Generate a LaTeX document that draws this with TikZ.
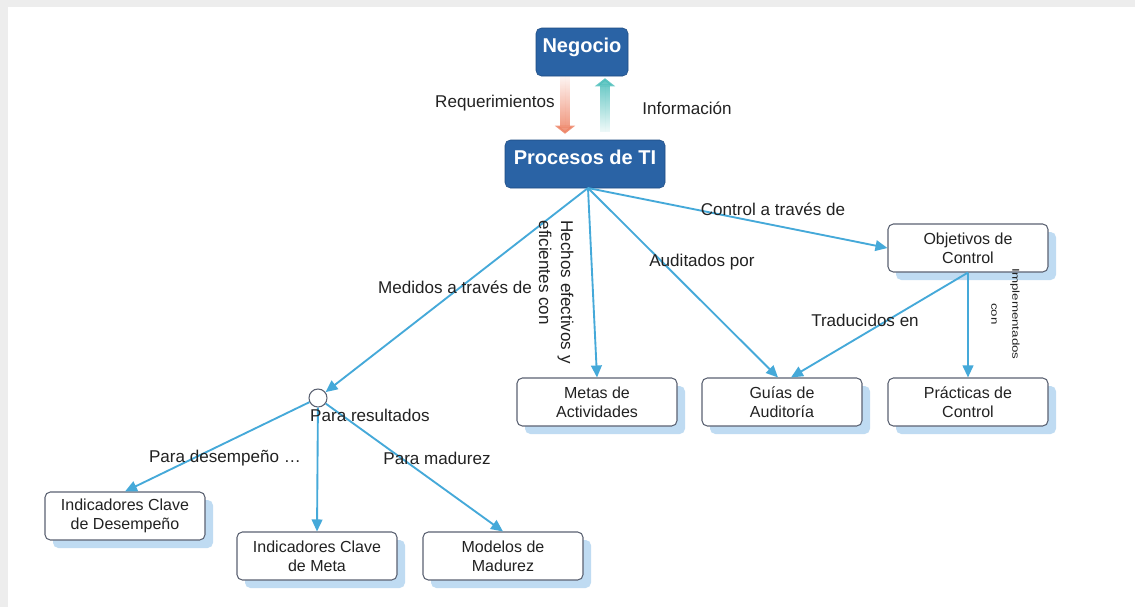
\documentclass[tikz,border=0pt]{standalone}
\usepackage{fontspec}
\setmainfont{Liberation Sans}
\usepackage{tikz}
\usetikzlibrary{arrows.meta,calc,fadings,shadows}
\definecolor{cmBlue}{HTML}{2A63A5}
\definecolor{cmBlueDark}{HTML}{1E4C82}
\definecolor{cmLine}{HTML}{45A9D9}
\definecolor{cmEdge}{HTML}{5B6272}
\definecolor{cmShadow}{HTML}{B9D8F1}
\definecolor{cmRed}{HTML}{EE8466}
\definecolor{cmTeal}{HTML}{4FC0BC}
\definecolor{cmText}{HTML}{222222}
\definecolor{cmFrame}{HTML}{EDEDED}

\begin{document}
\begin{tikzpicture}[
  x=0.75pt,y=-0.75pt,
  every node/.style={font=\fontsize{12}{14.5}\selectfont,text=cmText},
  topbox/.style={draw=cmBlueDark,fill=cmBlue,rounded corners=4pt,text=white,
    font=\fontsize{15}{18}\selectfont\bfseries,text height=14pt,text depth=14pt,
    inner ysep=4pt,inner xsep=0pt},
  concept/.style={draw=cmEdge,fill=white,rounded corners=4pt,line width=0.8pt,
    minimum width=120pt,minimum height=36pt,align=center,inner sep=2pt,
    drop shadow={fill=cmShadow,opacity=0.9,shadow xshift=6pt,shadow yshift=-6pt}},
  link/.style={-{Triangle[length=9pt,width=8pt]},line width=1.4pt,draw=cmLine},
  fat/.style={-{Triangle[length=6pt,width=15pt]},line width=8pt},
  tag/.style={font=\fontsize{12.8}{16.5}\selectfont,inner sep=1pt}
]
  \fill[cmFrame] (0,0) rectangle (1135,607);
  \fill[white] (8,7) rectangle (1135,607);
  \useasboundingbox (0,0) rectangle (1135,607);

  \node[topbox,minimum width=69pt] (negocio) at (582,52) {Negocio};
  \node[topbox,minimum width=120pt] (procesos) at (585,164) {Procesos de TI};

  \node[concept] (objetivos) at (968,248) {Objetivos de\\Control};
  \node[concept] (metas) at (597,402) {Metas de\\Actividades};
  \node[concept] (guias) at (782,402) {Guías de\\Auditoría};
  \node[concept] (practicas) at (968,402) {Prácticas de\\Control};
  \node[concept] (kpi) at (125,516) {Indicadores Clave\\de Desempeño};
  \node[concept] (kgi) at (317,556) {Indicadores Clave\\de Meta};
  \node[concept] (modelos) at (503,556) {Modelos de\\Madurez};
  \node[circle,draw=cmEdge,fill=white,minimum size=13.5pt,inner sep=0pt,
    line width=0.8pt] (resultados) at (318,398) {};

  \coordinate (hub) at (588,188);

  % negocio <-> procesos
  \draw[fat,draw=cmRed,fill=cmRed,path fading=north]
    ($(negocio.south)+(-17,0)$) -- ($(procesos.north)+(-20,-6)$);
  \draw[fat,draw=cmTeal,fill=cmTeal,path fading=south]
    ($(procesos.north)+(20,-8)$) -- ($(negocio.south)+(23,2)$);
  \node[tag] (req) at (495,103) {Requerimientos};
  \node[tag] (info) at (687,108) {Información};

  \draw[link] (hub) -- (objetivos.west);
  \draw[link] (hub) -- (metas.north);
  \draw[link] (hub) -- ($(guias.north)+(-4,0)$);
  \draw[link] (hub) -- (resultados);
  \draw[link] (objetivos.south) -- (practicas.north);
  \draw[link] (objetivos.south) -- ($(guias.north)+(9,0)$);
  \draw[link] (resultados) -- (kpi.north);
  \draw[link] (resultados) -- (kgi.north);
  \draw[link] (resultados) -- (modelos.north);

  \node[tag] (control) at (773,209) {Control a través de};
  \node[tag] (medidos) at (455,287) {Medidos a través de};
  \node[tag] (auditados) at (702,262) {Auditados por};
  \node[tag] (traducidos) at (865,320) {Traducidos en};
  \node[tag] (pararesult) at (370,415) {Para resultados};
  \node[tag] (paradesemp) at (225,458) {Para desempeño \ldots};
  \node[tag] (paramad) at (437,458) {Para madurez};
  \node[tag,rotate=-90,anchor=north west,align=left] (hechos) at (575,219)
    {Hechos efectivos y\\eficientes con};
  \node[rotate=-90,inner sep=0pt] (implem) at (1006,314)
    {\scalebox{1}[0.75]{\fontsize{10}{21}\selectfont
      \begin{tabular}{@{}c@{}}Implementados\\con\end{tabular}}};
\end{tikzpicture}
\end{document}
